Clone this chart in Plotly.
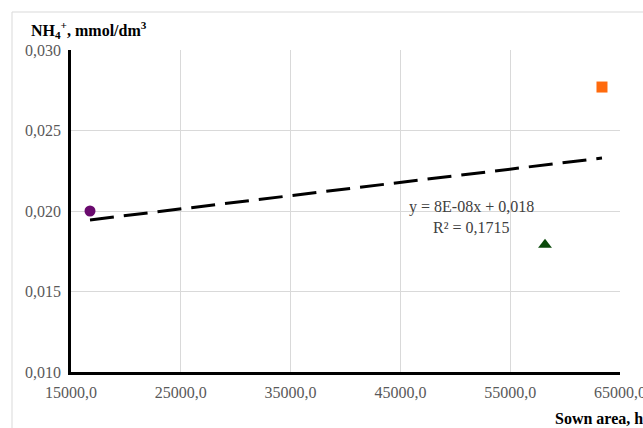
import numpy as np
import plotly.graph_objects as go

# Data
sown_area = [16730, 58170, 63360]          # ha
nh4 = [0.0200, 0.0179, 0.0277]             # mmol/dm3
marker_symbols = ["circle", "triangle-up", "square"]
marker_colors = ["#6A0A6E", "#0B4A0B", "#FF6A0D"]

x_ticks = [15000, 25000, 35000, 45000, 55000, 65000]
y_ticks = [0.010, 0.015, 0.020, 0.025, 0.030]

# Linear trend line fitted on the data
slope, intercept = np.polyfit(sown_area, nh4, 1)
trend_x = [min(sown_area), max(sown_area)]
trend_y = [slope * v + intercept for v in trend_x]

FONT = "Liberation Serif, Times New Roman, serif"

fig = go.Figure()
fig.add_trace(go.Scatter(
    x=trend_x, y=trend_y, mode="lines",
    line=dict(color="black", width=3, dash="24px,10px"),
    hoverinfo="skip", showlegend=False))
for xv, yv, s, c in zip(sown_area, nh4, marker_symbols, marker_colors):
    fig.add_trace(go.Scatter(
        x=[xv], y=[yv], mode="markers",
        marker=dict(symbol=s, color=c, size=11 if s != "triangle-up" else 12,
                    line=dict(width=0)),
        showlegend=False))

fig.update_layout(
    width=643, height=428,
    margin=dict(l=71, r=23, t=50, b=56),
    paper_bgcolor="white", plot_bgcolor="white",
    separators=",.",
    font=dict(family=FONT, size=16, color="#595959"),
    showlegend=False,
)
fig.update_xaxes(
    range=[15000, 65000], tickvals=x_ticks, tickformat=".1f",
    showgrid=True, gridcolor="#d9d9d9", gridwidth=1,
    showline=True, linecolor="black", linewidth=2.5,
    zeroline=False, ticks="", ticklabelstandoff=4,
    automargin=False, ticklabeloverflow="allow",
    tickfont=dict(family=FONT, size=16, color="#595959"),
)
fig.update_yaxes(
    range=[0.010, 0.030], tickvals=y_ticks, tickformat=".3f",
    showgrid=True, gridcolor="#d9d9d9", gridwidth=1,
    showline=True, linecolor="black", linewidth=2.5,
    zeroline=False, ticks="", ticklabelstandoff=4,
    automargin=False, ticklabeloverflow="allow",
    tickfont=dict(family=FONT, size=16, color="#595959"),
)

# Outer chart frame (partially cropped)
fig.add_shape(type="rect", xref="paper", yref="paper",
              x0=(12 - 71) / 549, x1=1.5, y0=-0.6, y1=(372 - 12) / 322,
              line=dict(color="#d9d9d9", width=1), fillcolor="rgba(0,0,0,0)",
              layer="below")

# Axis titles
fig.add_annotation(xref="paper", yref="paper",
                   x=(29 - 71) / 549, y=(372 - 30) / 322,
                   xanchor="left", yanchor="middle", showarrow=False,
                   text="<b>NH<sub>4</sub><sup>+</sup>, mmol/dm<sup>3</sup></b>",
                   font=dict(family=FONT, size=16, color="black"))
fig.add_annotation(xref="paper", yref="paper",
                   x=(553 - 71) / 549, y=(372 - 418) / 322,
                   xanchor="left", yanchor="middle", showarrow=False,
                   text="<b>Sown area, ha</b>",
                   font=dict(family=FONT, size=16, color="black"))

# Trend equation
fig.add_annotation(xref="paper", yref="paper",
                   x=(407 - 71) / 549, y=(372 - 217) / 322,
                   xanchor="left", yanchor="middle", showarrow=False,
                   text="y = 8E-08x + 0,018<br>      R² = 0,1715",
                   align="left",
                   font=dict(family=FONT, size=16, color="#404040"))

fig.write_html("out.html",
               config={"displayModeBar": False},
               post_script="document.body.style.margin='0';"
                           "document.body.style.overflow='hidden';")
